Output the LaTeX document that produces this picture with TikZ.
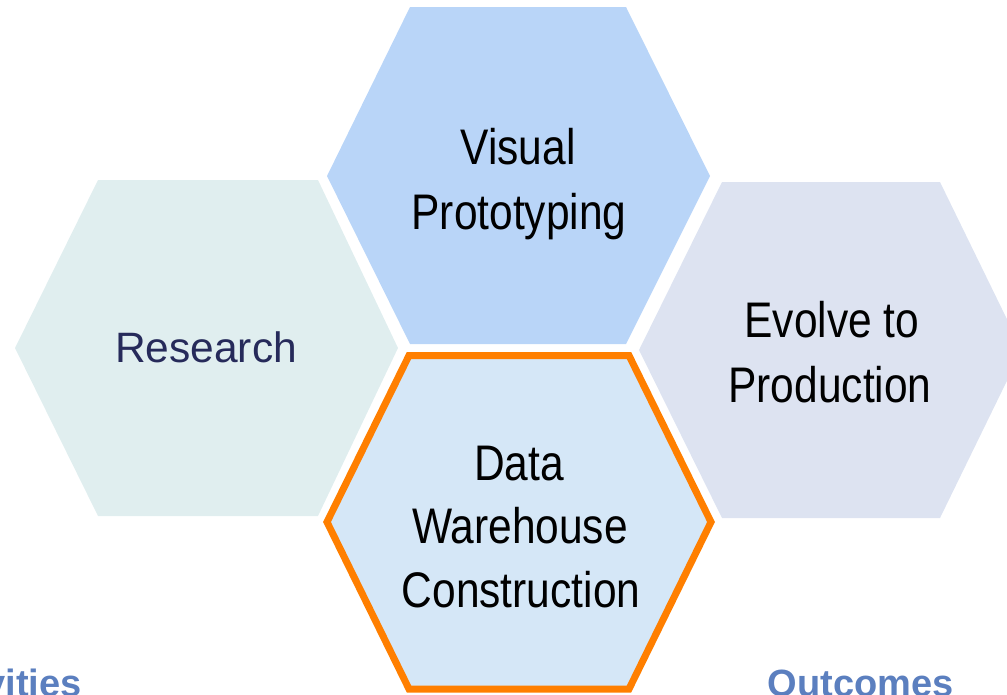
\documentclass[tikz,border=0pt]{standalone}
\usepackage{fontspec}
\setmainfont{Liberation Sans}[FakeStretch=0.85]
\newfontfamily\resfont{Liberation Sans}
\definecolor{resfill}{HTML}{E0EEEF}
\definecolor{visfill}{HTML}{B9D5F8}
\definecolor{evofill}{HTML}{DDE3F1}
\definecolor{datfill}{HTML}{D5E7F7}
\definecolor{orangeline}{HTML}{FF7F00}
\definecolor{navytext}{HTML}{262A5A}
\definecolor{bluelabel}{HTML}{5B7FBF}
\tikzset{
  hexlabel/.style={anchor=base, inner sep=0pt, font=\fontsize{50}{64}\selectfont, text=black},
  reslabel/.style={anchor=base, inner sep=0pt, font=\resfont\fontsize{42.5}{50}\selectfont, text=navytext},
  sidelabel/.style={anchor=base east, inner sep=0pt, font=\resfont\bfseries\fontsize{38}{46}\selectfont, text=bluelabel}
}
\begin{document}
\begin{tikzpicture}[x=1pt,y=-1pt]
\path[use as bounding box] (0,0) rectangle (1007,694);
\begin{scope}
\clip (0,0) rectangle (1007,694);
% Research
\fill[resfill] (15,348) -- (98,180) -- (318,180) -- (398,348) -- (318,516) -- (98,516) -- cycle;
% Visual Prototyping
\fill[visfill] (327,176) -- (410,7) -- (626,7) -- (710,176) -- (626,344) -- (410,344) -- cycle;
% Evolve to Production
\fill[evofill] (639,350) -- (722,182) -- (940,182) -- (1022,350) -- (940,518) -- (722,518) -- cycle;
% Data Warehouse Construction
\filldraw[fill=datfill, draw=orangeline, line width=7pt, line join=miter]
  (327,522) -- (409,355.5) -- (629,355.5) -- (711,522) -- (629,689) -- (409,689) -- cycle;

\node[reslabel] (res) at (206,362) {Research};
\node[hexlabel] (vis1) at (518,164) {Visual};
\node[hexlabel] (vis2) at (519,229) {Prototyping};
\node[hexlabel] (evo1) at (832,337) {Evolve to};
\node[hexlabel] (evo2) at (830,402) {Production};
\node[hexlabel] (dat1) at (519,480) {Data};
\node[hexlabel] (dat2) at (520,543) {Warehouse};
\node[hexlabel] (dat3) at (521,607) {Construction};

\node[sidelabel] (act) at (82,696) {Activities};
\node[sidelabel] (out) at (954,696) {Outcomes};
\end{scope}
\end{tikzpicture}
\end{document}
